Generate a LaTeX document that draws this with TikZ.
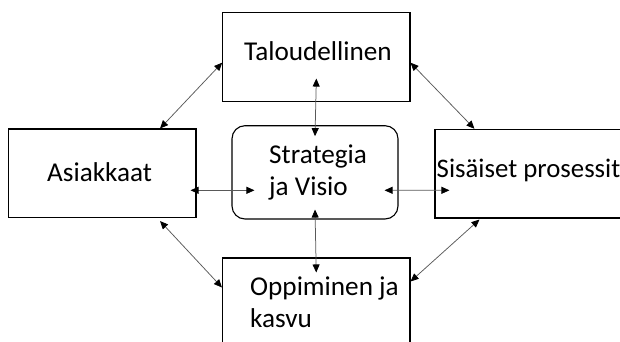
\documentclass[tikz,border=0pt]{standalone}
\usepackage{fontspec}
\setmainfont{Carlito}
\usetikzlibrary{arrows.meta}
\tikzset{
  box/.style={draw=black, line width=1.1pt, inner sep=0pt, rectangle},
  txt/.style={inner sep=0pt, font=\fontsize{27.2}{32.5}\selectfont},
  conn/.style={draw=black!65, line width=0.75pt,
    {Triangle[length=8pt,width=7pt,color=black]}-{Triangle[length=8pt,width=7pt,color=black]}}
}
\begin{document}
\begin{tikzpicture}[x=1pt,y=-1pt]
\useasboundingbox (0,0) rectangle (620,342);
\clip (0,0) rectangle (620,342);
% boxes
\node[box, minimum width=187.3pt, minimum height=89pt] (tal) at (316.35,57.2) {};
\node[box, minimum width=187.3pt, minimum height=88.5pt] (asi) at (102.35,173.25) {};
\node[box, minimum width=166pt, minimum height=93.3pt, rounded corners=13pt] (str) at (315,172.35) {};
\node[box, minimum width=205pt, minimum height=88.7pt] (sis) at (537.5,173.65) {};
\node[box, minimum width=187.5pt, minimum height=102pt] (opp) at (316.25,309) {};
% texts
\node[txt, anchor=base] (talT) at (318,60.5) {Taloudellinen};
\node[txt, anchor=base] (asiT) at (99.6,181.5) {Asiakkaat};
\node[txt, anchor=base west, align=left] (strT) at (269,195.5) {Strategia\\ja Visio};
\node[txt, anchor=base west, font=\fontsize{26.8}{32.5}\selectfont] (sisT) at (436.5,177.5) {Sisäiset prosessit};
\node[txt, anchor=base west, align=left] (oppT) at (250,327.5) {Oppiminen ja\\kasvu};
% connectors
\draw[conn] ([yshift=-5.5pt]tal.west) -- ([xshift=-36.5pt]asi.north east);
\draw[conn] ([yshift=-5.5pt]tal.east) -- ([xshift=40pt]sis.north west);
\draw[conn] ([xshift=-36.5pt,yshift=-3pt]asi.south east) -- ([yshift=-30pt]opp.north west);
\draw[conn] ([xshift=45pt,yshift=-1pt]sis.south west) -- ([yshift=-24pt]opp.north east);
\draw[conn] ([yshift=23.7pt]tal.south) -- ([yshift=-11pt]str.north);
\draw[conn] ([yshift=10pt]str.south) -- ([yshift=-15pt]opp.north);
\draw[conn] ([xshift=-6pt,yshift=-17.05pt]asi.east) -- ([xshift=23pt,yshift=-17.95pt]str.west);
\draw[conn] ([xshift=-14pt,yshift=-17.95pt]str.east) -- ([xshift=15pt,yshift=-16.65pt]sis.west);
\end{tikzpicture}
\end{document}
